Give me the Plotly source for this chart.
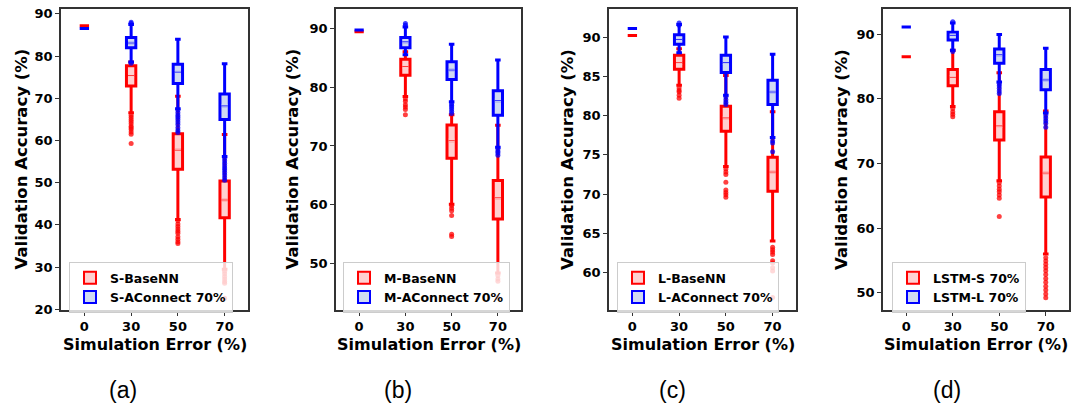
import plotly.graph_objects as go

CATS = ["0", "30", "50", "70"]

# ---- Panel (a) ----
A_NAMES = ["S-BaseNN", "S-AConnect 70%"]
A_RED = dict(q1=[87.2, 72.9, 53.2, 41.7], med=[87.2, 75.4, 57.7, 45.9], q3=[87.2, 77.7, 61.6, 50.4],
             lf=[87.2, 66.6, 41.3, 29.5], uf=[87.2, 78.6, 70.5, 61.4])
A_RED_OUT = [[], [66.0, 65.5, 65.0, 64.5, 64.0, 63.4, 63.0, 62.6, 62.0, 61.5, 59.3],
             [41.0, 40.2, 39.6, 39.0, 38.5, 38.0, 37.2, 36.6, 36.0, 35.6],
             [29.0, 28.4, 27.8, 27.2, 26.6, 26.2, 22.6]]
A_BLUE = dict(q1=[86.55, 82.0, 73.5, 65.0], med=[86.55, 83.1, 76.2, 68.2], q3=[86.55, 84.4, 78.1, 71.0],
              lf=[86.55, 78.6, 67.5, 56.2], uf=[86.55, 87.5, 84.0, 78.2])
A_BLUE_OUT = [[], [88.0, 87.7, 78.3],
              [67.2, 66.6, 66.0, 65.5, 65.0, 64.4, 63.8, 63.0, 62.4, 61.9],
              [55.8, 55.2, 54.6, 54.0, 53.5, 53.0, 52.4, 51.8, 51.2, 50.6]]

# ---- Panel (b) ----
B_NAMES = ["M-BaseNN", "M-AConnect 70%"]
B_RED = dict(q1=[89.4, 82.0, 67.9, 57.6], med=[89.4, 83.5, 70.9, 61.2], q3=[89.4, 84.75, 73.55, 64.15],
             lf=[89.4, 78.4, 60.1, 48.4], uf=[89.4, 86.0, 75.3, 73.5])
B_RED_OUT = [[], [78.0, 77.6, 77.0, 76.6, 76.2, 75.3],
             [59.9, 59.4, 59.0, 58.2, 55.0, 54.6],
             [48.0, 47.4, 47.0, 44.2]]
B_BLUE = dict(q1=[89.7, 86.7, 81.3, 75.2], med=[89.7, 87.7, 82.9, 77.7], q3=[89.7, 88.45, 84.3, 79.4],
              lf=[89.7, 85.5, 77.5, 69.8], uf=[89.7, 90.2, 87.3, 84.6])
B_BLUE_OUT = [[], [90.8, 90.5],
              [77.2, 76.9, 76.6, 76.3, 75.9, 75.5],
              [69.5, 69.1, 68.8, 68.4]]

# ---- Panel (c) ----
C_NAMES = ["L-BaseNN", "L-AConnect 70%"]
C_RED = dict(q1=[90.2, 85.9, 78.0, 70.35], med=[90.2, 86.75, 79.7, 72.8], q3=[90.2, 87.7, 81.2, 74.7],
             lf=[90.2, 83.85, 73.5, 64.0], uf=[90.2, 88.5, 85.1, 80.5])
C_RED_OUT = [[], [83.5, 83.2, 83.0, 82.6, 82.2],
             [73.2, 72.8, 72.5, 71.5, 70.5, 70.2, 69.9, 69.6],
             [63.2, 62.9, 62.6, 62.3, 61.5, 61.2, 60.6, 60.2, 56.8]]
C_BLUE = dict(q1=[91.1, 89.1, 85.5, 81.4], med=[91.1, 89.7, 86.75, 83.0], q3=[91.1, 90.3, 87.7, 84.5],
              lf=[91.1, 88.0, 82.6, 77.2], uf=[91.1, 91.6, 90.0, 87.8])
C_BLUE_OUT = [[], [91.8, 91.5],
              [82.4, 82.0, 81.7, 81.4],
              [76.8, 76.5, 75.4]]

# ---- Panel (d) ----
D_NAMES = ["LSTM-S 70%", "LSTM-L 70%"]
D_RED = dict(q1=[86.5, 82.0, 73.6, 64.8], med=[86.5, 83.3, 75.8, 68.5], q3=[86.5, 84.5, 78.0, 71.0],
             lf=[86.5, 78.8, 67.3, 56.0], uf=[86.5, 87.5, 84.0, 78.1])
D_RED_OUT = [[], [78.5, 78.0, 77.6, 77.2],
             [67.0, 66.5, 66.0, 65.6, 65.1, 64.6, 61.8],
             [55.4, 54.9, 54.4, 53.9, 53.4, 52.8, 52.2, 51.6, 51.0, 50.4, 49.8, 49.2]]
D_BLUE = dict(q1=[91.1, 89.1, 85.5, 81.4], med=[91.1, 89.8, 86.8, 82.9], q3=[91.1, 90.3, 87.7, 84.5],
              lf=[91.1, 87.5, 82.6, 77.8], uf=[91.1, 91.7, 89.95, 87.8])
D_BLUE_OUT = [[], [91.9, 87.3],
              [82.3, 82.0, 81.6, 81.2, 80.8],
              [77.4, 77.0, 76.6, 76.2, 75.6]]

Y_RANGES = [[19.8, 91.2], [42.1, 93.3], [55.2, 93.6], [47.3, 93.9]]
Y_DTICK = [10, 10, 5, 10]
PANEL_LABELS = ["(a)", "(b)", "(c)", "(d)"]

PANELS = [
    (A_NAMES, A_RED, A_RED_OUT, A_BLUE, A_BLUE_OUT),
    (B_NAMES, B_RED, B_RED_OUT, B_BLUE, B_BLUE_OUT),
    (C_NAMES, C_RED, C_RED_OUT, C_BLUE, C_BLUE_OUT),
    (D_NAMES, D_RED, D_RED_OUT, D_BLUE, D_BLUE_OUT),
]

W, H = 1078, 413
X_PIX = [(61, 248), (336, 521), (609, 796), (883, 1069)]
Y_PIX = (7, 315)
LEG_PIX = [69, 343, 617, 892]
YTITLE_X = [21, 292, 567.5, 841.5]
LABEL_X = [123, 398, 672, 947]

RED, BLUE = "#ff0000", "#0000ff"
RED_FILL, BLUE_FILL = "rgb(255,208,208)", "rgb(208,218,242)"
FONT = "DejaVu Sans"

fig = go.Figure()
layout = dict(width=W, height=H, margin=dict(l=0, r=0, t=0, b=0),
              paper_bgcolor="white", plot_bgcolor="white", boxmode="overlay",
              showlegend=True, annotations=[])

BOX_W = 0.2

for i, (names, red, red_out, blue, blue_out) in enumerate(PANELS):
    sfx = "" if i == 0 else str(i + 1)
    xa, ya = "x" + sfx, "y" + sfx
    leg = "legend" + sfx
    series = [(names[0], red, red_out, RED, RED_FILL, "rgba(255,50,50,0.95)"),
              (names[1], blue, blue_out, BLUE, BLUE_FILL, "rgba(30,30,255,0.95)")]
    for name, st, outs, col, fill, medcol in series:
        fig.add_trace(go.Box(
            x=CATS, q1=st["q1"], median=st["med"], q3=st["q3"],
            lowerfence=st["lf"], upperfence=st["uf"],
            name=name, width=BOX_W, whiskerwidth=0.6,
            line=dict(color=col, width=3), fillcolor=fill,
            boxpoints=False, xaxis=xa, yaxis=ya, legend=leg, hoverinfo="skip"))
    for name, st, outs, col, fill, medcol in series:
        ox, oy = [], []
        for c, vals in zip(CATS, outs):
            ox += [c] * len(vals)
            oy += vals
        fig.add_trace(go.Scatter(
            x=ox, y=oy, mode="markers", showlegend=False,
            marker=dict(color=col, size=5, opacity=0.75, line=dict(width=0)),
            xaxis=xa, yaxis=ya, hoverinfo="skip"))
    for name, st, outs, col, fill, medcol in series:
        # hide the thick default median and redraw it as a thin line
        fig.add_trace(go.Scatter(
            x=CATS[1:], y=st["med"][1:], mode="markers", showlegend=False,
            marker=dict(symbol="line-ew", size=4.5, line=dict(color=fill, width=3.6)),
            xaxis=xa, yaxis=ya, hoverinfo="skip"))
        fig.add_trace(go.Scatter(
            x=CATS[1:], y=st["med"][1:], mode="markers", showlegend=False,
            marker=dict(symbol="line-ew", size=4.5, line=dict(color=medcol, width=1)),
            xaxis=xa, yaxis=ya, hoverinfo="skip"))

    x0, x1 = X_PIX[i]
    layout["xaxis" + sfx] = dict(
        domain=[x0 / W, x1 / W], anchor=ya, type="category",
        categoryorder="array", categoryarray=CATS, range=[-0.5, 3.5],
        showgrid=False, zeroline=False, showline=True, mirror=True,
        linecolor="#333333", linewidth=1.5, ticks="outside", ticklen=4,
        tickwidth=1.2, tickcolor="#333333",
        tickfont=dict(family=FONT, size=13, color="black", weight="bold"))
    layout["yaxis" + sfx] = dict(
        domain=[1 - Y_PIX[1] / H, 1 - Y_PIX[0] / H], anchor=xa,
        range=Y_RANGES[i], dtick=Y_DTICK[i], tick0=0,
        showgrid=False, zeroline=False, showline=True, mirror=True,
        linecolor="#333333", linewidth=1.5, ticks="outside", ticklen=4,
        tickwidth=1.2, tickcolor="#333333",
        tickfont=dict(family=FONT, size=13, color="black", weight="bold"))
    layout[leg] = dict(
        x=LEG_PIX[i] / W, y=1 - 318 / H, xanchor="left", yanchor="bottom",
        bgcolor="rgba(255,255,255,0.8)", bordercolor="#cccccc", borderwidth=1,
        font=dict(family=FONT, size=12.5, color="black", weight="bold"),
        traceorder="normal", itemsizing="constant")
    layout["annotations"] += [
        dict(text="Validation Accuracy (%)", textangle=-90, x=YTITLE_X[i] / W,
             y=1 - 161 / H, xref="paper", yref="paper", showarrow=False,
             xanchor="center", yanchor="middle",
             font=dict(family=FONT, size=16.5, color="black", weight="bold")),
        dict(text="Simulation Error (%)", x=(x0 + x1) / 2 / W, y=1 - 350 / H,
             xref="paper", yref="paper", showarrow=False,
             xanchor="center", yanchor="middle",
             font=dict(family=FONT, size=16, color="black", weight="bold")),
        dict(text=PANEL_LABELS[i], x=LABEL_X[i] / W, y=1 - 397 / H,
             xref="paper", yref="paper", showarrow=False,
             xanchor="center", yanchor="middle",
             font=dict(family="Liberation Sans", size=23, color="black")),
    ]

fig.update_layout(**layout)
fig.write_html("out.html")
